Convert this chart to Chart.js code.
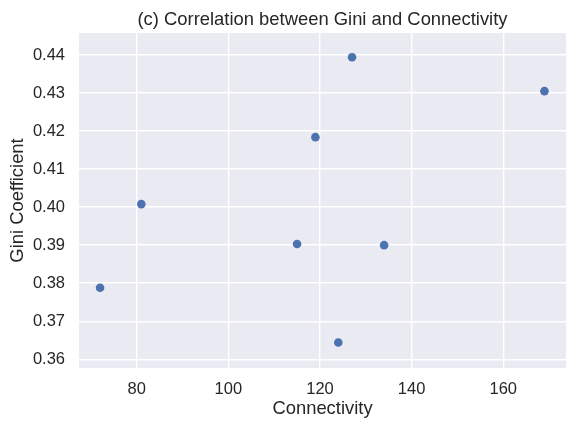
<!DOCTYPE html>
<html>
<head>
<meta charset="utf-8">
<title>Correlation between Gini and Connectivity</title>
<script src="https://cdn.jsdelivr.net/npm/chart.js@4.4.1/dist/chart.umd.min.js"></script>
<style>
    html, body { margin: 0; padding: 0; background: #ffffff; }
    #wrap { width: 566px; height: 421px; }
</style>
</head>
<body>
<div id="wrap"><canvas id="chart" width="566" height="421"></canvas></div>
<script>
// Values
const connectivity = [72, 81, 115, 119, 124, 127, 134, 169];
const giniValues = [0.3788, 0.4008, 0.3903, 0.4184, 0.3644, 0.4394, 0.3900, 0.4305];

// Tick labels
const xTicks = [80, 100, 120, 140, 160];
const yTicks = [0.36, 0.37, 0.38, 0.39, 0.40, 0.41, 0.42, 0.43, 0.44];

const FONT = '"Liberation Sans", Arial, "DejaVu Sans", sans-serif';
const TEXT = '#262626';
const GRID = '#ffffff';
const PANEL = '#eaeaf2';

/**
 * Seaborn-style grey panel behind the plot area
 */
const panelBackground = {
    id: 'panelBackground',
    beforeDraw(chart) {
        const { ctx, chartArea: a } = chart;
        ctx.save();
        ctx.fillStyle = PANEL;
        ctx.fillRect(a.left, a.top, a.right - a.left, a.bottom - a.top);
        ctx.restore();
    }
};

const points = connectivity.map((x, i) => ({ x, y: giniValues[i] }));

new Chart(document.getElementById('chart').getContext('2d'), {
    type: 'scatter',
    data: {
        datasets: [{
            data: points,
            backgroundColor: '#4c72b0',
            borderWidth: 0,
            pointRadius: 4.3,
            pointHoverRadius: 4.3,
        }]
    },
    options: {
        responsive: false,
        animation: false,
        devicePixelRatio: 1,
        layout: { padding: 0, autoPadding: false },
        plugins: {
            legend: { display: false },
            tooltip: { enabled: false },
            title: {
                display: true,
                text: '(c) Correlation between Gini and Connectivity',
                color: TEXT,
                fullSize: false,
                font: { family: FONT, size: 18.4, weight: 'normal' },
                padding: { top: 9, bottom: 1.9 },
            }
        },
        scales: {
            x: {
                type: 'linear',
                min: 67.4,
                max: 173.7,
                afterBuildTicks: s => { s.ticks = xTicks.map(v => ({ value: v })); },
                afterFit: s => { s.height = 53; },
                grid: { color: GRID, lineWidth: 1.4, drawTicks: false },
                border: { display: false },
                ticks: {
                    color: TEXT,
                    padding: 12,
                    font: { family: FONT, size: 16.5 },
                    callback: v => String(v),
                },
                title: {
                    display: true,
                    text: 'Connectivity',
                    color: TEXT,
                    font: { family: FONT, size: 18.4 },
                    padding: { top: 0, bottom: 1.5 },
                }
            },
            y: {
                type: 'linear',
                min: 0.3577,
                max: 0.4458,
                afterBuildTicks: s => { s.ticks = yTicks.map(v => ({ value: v })); },
                afterFit: s => { s.width = 79; },
                grid: { color: GRID, lineWidth: 1.4, drawTicks: false },
                border: { display: false },
                ticks: {
                    color: TEXT,
                    padding: 14,
                    font: { family: FONT, size: 16.5 },
                    callback: v => Number(v).toFixed(2),
                },
                title: {
                    display: true,
                    text: 'Gini Coefficient',
                    color: TEXT,
                    font: { family: FONT, size: 18.4 },
                    padding: { top: 7, bottom: 0 },
                }
            }
        }
    },
    plugins: [panelBackground]
});
</script>
</body>
</html>
